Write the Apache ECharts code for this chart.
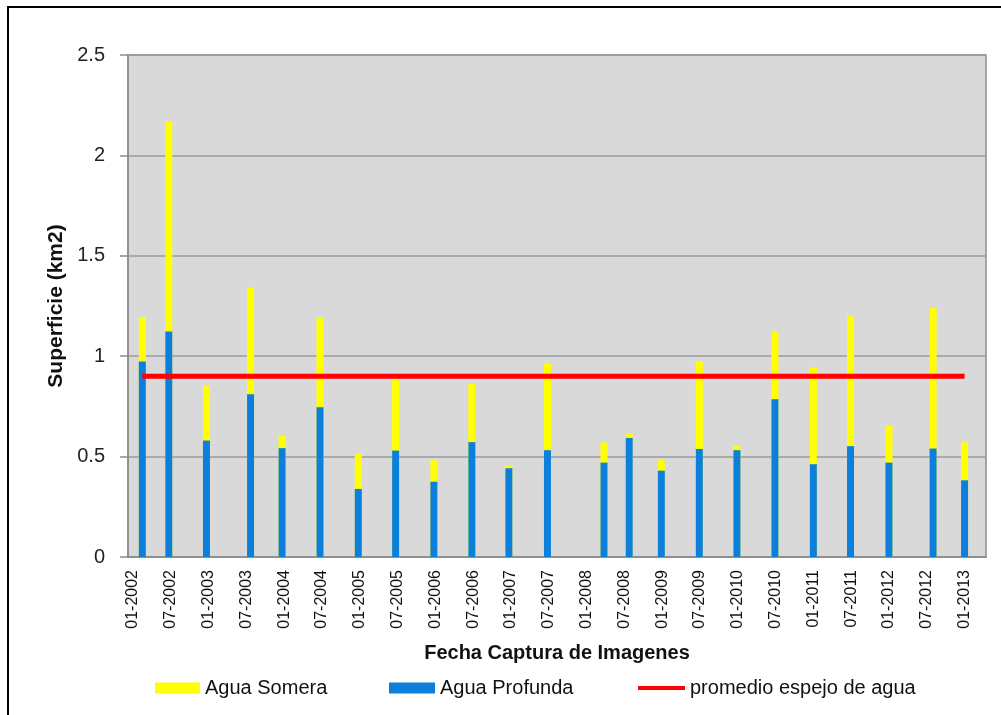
<!DOCTYPE html>
<html>
<head>
<meta charset="utf-8">
<script src="https://cdn.jsdelivr.net/npm/echarts@6/dist/echarts.min.js"></script>
<style>
html,body{margin:0;padding:0;background:#fff;}
#chart{width:1001px;height:715px;}
</style>
</head>
<body>
<div id="chart"></div>
<script>
// Capture dates
var fechas = ['2002-02-15','2002-06-22','2002-12-22','2003-07-22','2003-12-22','2004-06-22','2004-12-25','2005-06-22','2005-12-25','2006-06-25','2006-12-22','2007-06-25','2008-03-25','2008-07-25','2008-12-28','2009-06-28','2009-12-28','2010-06-28','2011-01-01','2011-06-28','2012-01-01','2012-08-01','2013-01-01'];
// Agua Profunda (km2)
var aguaProfunda = [0.974,1.123,0.580,0.811,0.542,0.746,0.339,0.530,0.375,0.572,0.442,0.532,0.470,0.593,0.430,0.538,0.532,0.786,0.462,0.552,0.470,0.540,0.382];
// Agua Somera (km2), stacked on top of Agua Profunda
var aguaSomera = [0.221,1.047,0.272,0.531,0.061,0.449,0.176,0.356,0.107,0.290,0.012,0.430,0.100,0.019,0.052,0.436,0.021,0.337,0.480,0.651,0.185,0.701,0.190];
// Promedio espejo de agua (km2)
var promedio = 0.9;
// Tick labels on the date axis
var tickFechas = ['2002-01-01','2002-07-01','2003-01-01','2003-07-01','2004-01-01','2004-07-01','2005-01-01','2005-07-01','2006-01-01','2006-07-01','2007-01-01','2007-07-01','2008-01-01','2008-07-01','2009-01-01','2009-07-01','2010-01-01','2010-07-01','2011-01-01','2011-07-01','2012-01-01','2012-07-01','2013-01-01'];
var axisStart = '2001-12-08', axisEnd = '2013-04-13';

// date string -> months since 2002-01-01 (fractional)
function mon(s){
  var p = s.split('-'), y = +p[0], m = +p[1], d = +p[2];
  var dim = new Date(Date.UTC(y, m, 0)).getUTCDate();
  return (y - 2002) * 12 + (m - 1) + (d - 1) / dim;
}
function pad(n){ return (n<10?'0':'')+n; }
function monLabel(v){
  var k = Math.round(v), y = 2002 + Math.floor(k / 12), m = ((k % 12) + 12) % 12 + 1;
  return pad(m) + '-' + y;
}

var FONT = "'Liberation Sans', Arial, sans-serif";
var chart = echarts.init(document.getElementById('chart'), null, {renderer:'canvas'});

// Stacked top of each column (Profunda + Somera); the yellow column is drawn behind the blue one.
var topSomera = fechas.map(function(f, i){ return [mon(f), +(aguaProfunda[i] + aguaSomera[i]).toFixed(3)]; });
var baseProfunda = fechas.map(function(f, i){ return [mon(f), aguaProfunda[i]]; });

var option = {
  animation: false,
  backgroundColor: '#ffffff',
  textStyle: {fontFamily: FONT},
  graphic: [{
    type: 'rect', shape: {x: 8, y: 7, width: 1100, height: 800},
    style: {fill: 'none', stroke: '#000', lineWidth: 2}, silent: true, z: -10
  }],
  grid: {
    left: 128, right: 15, top: 55, bottom: 158,
    show: true, backgroundColor: '#d9d9d9', borderColor: '#8c8c8c', borderWidth: 1.5
  },
  legend: [
    {data: [{name: 'Agua Somera', icon: 'rect'}], left: 155, top: 678, padding: 0,
     itemWidth: 45, itemHeight: 11, textStyle: {fontSize: 20, color: '#111', fontFamily: FONT}},
    {data: [{name: 'Agua Profunda', icon: 'rect'}], left: 389, top: 678, padding: 0,
     itemWidth: 46, itemHeight: 11, textStyle: {fontSize: 20, color: '#111', fontFamily: FONT}},
    {data: [{name: 'promedio espejo de agua', icon: 'rect'}], left: 638, top: 678, padding: 0,
     itemWidth: 47, itemHeight: 4, textStyle: {fontSize: 20, color: '#111', fontFamily: FONT}}
  ],
  xAxis: {
    type: 'value',
    min: mon(axisStart), max: mon(axisEnd),
    name: 'Fecha Captura de Imagenes', nameLocation: 'middle', nameGap: 86,
    nameTextStyle: {fontSize: 20, fontWeight: 'bold', color: '#111', fontFamily: FONT},
    axisLine: {show: true, onZero: false, lineStyle: {color: '#8c8c8c', width: 1.5}},
    axisTick: {show: false},
    splitLine: {show: false},
    axisLabel: {
      customValues: tickFechas.map(mon),
      rotate: 90, margin: 13, fontSize: 16, color: '#111', fontFamily: FONT,
      formatter: monLabel
    }
  },
  yAxis: {
    type: 'value', min: 0, max: 2.5, interval: 0.5,
    name: 'Superficie (km2)', nameLocation: 'middle', nameGap: 60, nameRotate: 90,
    nameTextStyle: {fontSize: 21, fontWeight: 'bold', color: '#111', fontFamily: FONT},
    axisLine: {show: true, onZero: false, lineStyle: {color: '#8c8c8c', width: 1.5}},
    axisTick: {show: true, length: 8, inside: false, lineStyle: {color: '#8c8c8c', width: 1.5}},
    splitLine: {show: true, lineStyle: {color: '#9a9a9a', width: 1.5}},
    axisLabel: {fontSize: 20, color: '#222', margin: 23, fontFamily: FONT}
  },
  series: [
    {
      name: 'Agua Somera', type: 'bar', barWidth: 7, barGap: '-100%',
      itemStyle: {color: '#ffff00'},
      data: topSomera,
      z: 2
    },
    {
      name: 'Agua Profunda', type: 'bar', barWidth: 7, barGap: '-100%',
      itemStyle: {color: '#0b7fdb'},
      data: baseProfunda,
      z: 3
    },
    {
      name: 'promedio espejo de agua', type: 'line', symbol: 'none', showSymbol: false,
      lineStyle: {color: '#ff0000', width: 5}, itemStyle: {color: '#ff0000'},
      data: fechas.map(function(f){ return [mon(f), promedio]; }),
      z: 5
    }
  ]
};
chart.setOption(option);
</script>
</body>
</html>
